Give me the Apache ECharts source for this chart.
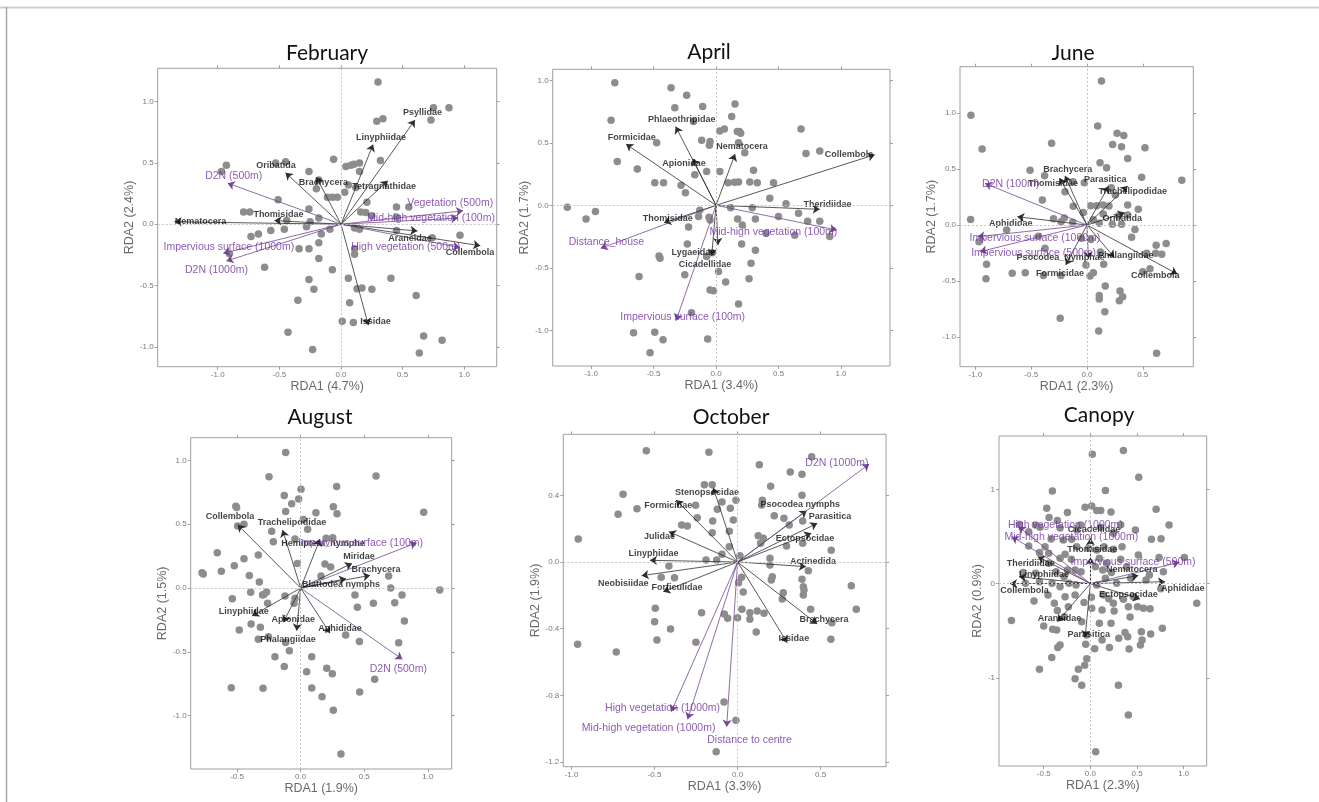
<!DOCTYPE html>
<html><head><meta charset="utf-8">
<script src="https://cdn.jsdelivr.net/npm/echarts@6/dist/echarts.min.js"></script>
<style>html,body{margin:0;padding:0;background:#fff}#c{width:1319px;height:802px}</style>
</head><body><div id="c"></div>
<script>
// ---------------- DATA ----------------
const panelTitles = ['February','April','June','August','October','Canopy'];
const xAxisNames = ['RDA1 (4.7%)','RDA1 (3.4%)','RDA1 (2.3%)','RDA1 (1.9%)','RDA1 (3.3%)','RDA1 (2.3%)'];
const yAxisNames = ['RDA2 (2.4%)','RDA2 (1.7%)','RDA2 (1.7%)','RDA2 (1.5%)','RDA2 (1.9%)','RDA2 (0.9%)'];

// axis extents [min,max]
const xRanges = [[-1.487,1.263],[-1.307,1.392],[-1.138,0.953],[-0.865,1.188],[-1.05,0.894],[-0.979,1.246]];
const yRanges = [[-1.161,1.271],[-1.285,1.088],[-1.265,1.414],[-1.418,1.178],[-1.228,0.766],[-1.933,1.565]];
// tick values
const xTicks = [[-1,-0.5,0,0.5,1],[-1,-0.5,0,0.5,1],[-1,-0.5,0,0.5],[-0.5,0,0.5,1],[-1,-0.5,0,0.5],[-0.5,0,0.5,1]];
const yTicks = [[-1,-0.5,0,0.5,1],[-1,-0.5,0,0.5,1],[-1,-0.5,0,0.5,1],[-1,-0.5,0,0.5,1],[-1.2,-0.8,-0.4,0,0.4],[-1,0,1]];
const yTickDecimals = [1,1,1,1,1,0];

// sites (grey points)
const febPoints = [[0.30,1.16],[0.75,0.95],[0.876,0.95],[0.73,0.85],[0.29,0.84],[0.34,0.86],[-0.06,0.53],[-0.53,0.50],[-0.45,0.51],[-0.97,0.43],[-0.93,0.48],[0.04,0.47],[0.08,0.48],[0.105,0.49],[0.15,0.50],[-0.26,0.43],[0.32,0.52],[0.15,0.43],[-0.18,0.36],[-0.2,0.29],[0.06,0.32],[0.12,0.30],[0.03,0.26],[-0.11,0.22],[-0.07,0.22],[-0.03,0.22],[-0.51,0.20],[0.21,0.18],[0.45,0.14],[0.55,0.14],[0.16,0.10],[0.20,0.095],[0.25,0.07],[-0.79,0.10],[-0.74,0.10],[-0.26,0.125],[-0.18,0.05],[-0.44,0.03],[-0.25,0.02],[-0.28,-0.02],[-0.57,-0.05],[-0.46,-0.04],[-0.67,-0.08],[-0.73,-0.10],[-0.16,-0.08],[-0.09,-0.04],[0.11,-0.03],[0.15,-0.04],[0.45,-0.05],[0.74,-0.11],[0.965,-0.09],[-0.18,-0.15],[-0.34,-0.20],[-0.26,-0.20],[0.11,-0.20],[0.11,-0.245],[-0.905,-0.24],[-0.18,-0.28],[-0.62,-0.35],[-0.07,-0.37],[-0.26,-0.45],[0.06,-0.44],[0.405,-0.44],[-0.22,-0.53],[0.13,-0.525],[0.17,-0.52],[0.25,-0.53],[0.61,-0.58],[-0.35,-0.62],[0.07,-0.64],[0.01,-0.79],[0.10,-0.80],[-0.43,-0.88],[0.67,-0.91],[0.82,-0.945],[-0.23,-1.02],[0.635,-1.05],[0.45,0.06]];
const aprPoints = [[-0.81,0.98],[-0.36,0.94],[-0.235,0.88],[-0.84,0.68],[-0.33,0.78],[-0.107,0.79],[0.152,0.81],[0.125,0.71],[-0.18,0.67],[0.03,0.595],[0.067,0.61],[0.187,0.59],[0.197,0.576],[0.17,0.59],[0.68,0.61],[-0.475,0.50],[-0.115,0.52],[-0.048,0.51],[-0.053,0.48],[0.18,0.50],[0.23,0.42],[0.72,0.415],[0.83,0.435],[-0.79,0.35],[-0.63,0.29],[0.03,0.27],[-0.075,0.27],[-0.17,0.245],[0.30,0.28],[-0.49,0.18],[-0.42,0.18],[-0.28,0.16],[-0.245,0.10],[0.096,0.18],[0.147,0.184],[0.18,0.187],[0.27,0.187],[0.33,0.18],[0.46,0.18],[0.43,0.056],[0.56,0.013],[-1.19,-0.016],[-0.965,-0.05],[-1.04,-0.11],[-0.13,-0.04],[-0.14,-0.09],[-0.056,-0.096],[-0.048,-0.117],[0.117,-0.02],[0.29,-0.02],[0.173,-0.11],[0.315,-0.11],[0.21,-0.157],[0.66,-0.064],[0.733,-0.128],[0.83,-0.128],[0.50,-0.09],[-0.22,-0.173],[0.63,-0.24],[0.91,-0.25],[0.40,-0.224],[-0.23,-0.31],[0.205,-0.31],[0.315,-0.36],[-0.456,-0.405],[-0.448,-0.424],[-0.075,-0.41],[-0.03,-0.38],[0.28,-0.464],[-0.616,-0.57],[-0.25,-0.555],[0.02,-0.53],[0.264,-0.587],[0.077,-0.613],[-0.048,-0.677],[-0.02,-0.683],[0.18,-0.79],[-0.197,-0.86],[-0.66,-1.02],[-0.49,-1.016],[-0.424,-1.075],[-0.067,-1.07],[-0.528,-1.18]];
const junPoints = [[0.13,1.286],[-1.04,0.98],[-0.94,0.68],[0.096,0.884],[0.27,0.82],[0.33,0.80],[0.23,0.72],[0.31,0.70],[0.52,0.69],[0.365,0.595],[-0.317,0.73],[0.117,0.556],[0.176,0.512],[-0.51,0.49],[-0.38,0.44],[-0.125,0.387],[-0.024,0.378],[0.49,0.426],[0.85,0.40],[0.218,0.333],[0.254,0.268],[-0.197,0.298],[-0.40,0.223],[-0.123,0.167],[-0.033,0.113],[0.033,0.173],[0.087,0.173],[0.146,0.179],[0.197,0.17],[0.365,0.179],[0.46,0.14],[0.365,0.089],[0.284,0.083],[0.146,0.098],[0.057,0.048],[0.11,0.015],[0.227,0.006],[0.31,0.006],[-1.043,0.05],[-0.30,0.057],[-0.203,0.063],[-0.233,0.03],[-0.128,0.024],[-0.72,-0.045],[0.43,-0.04],[0.40,-0.11],[-0.968,-0.149],[-0.436,-0.10],[-0.376,-0.208],[-0.048,-0.119],[0.036,-0.128],[0.12,-0.24],[0.15,-0.35],[-0.009,-0.357],[0.057,-0.426],[0.027,-0.455],[-0.90,-0.35],[-0.905,-0.48],[-0.67,-0.43],[-0.553,-0.426],[-0.39,-0.45],[-0.233,-0.45],[0.164,-0.545],[0.11,-0.63],[0.11,-0.66],[0.296,-0.59],[0.32,-0.64],[0.29,-0.675],[0.62,-0.18],[0.71,-0.164],[0.67,-0.26],[0.615,-0.253],[0.535,-0.253],[0.565,-0.39],[0.5,-0.417],[0.16,-0.774],[-0.24,-0.833],[0.105,-0.946],[0.624,-1.146]];
const augPoints = [[-0.118,1.063],[0.593,0.877],[-0.249,0.872],[0.283,0.796],[0.003,0.775],[-0.129,0.726],[-0.016,0.697],[-0.071,0.661],[-0.51,0.64],[-0.504,0.632],[-0.118,0.60],[0.12,0.59],[0.257,0.637],[0.286,0.582],[0.968,0.593],[0.021,0.538],[0.055,0.46],[-0.496,0.486],[-0.446,0.499],[-0.228,0.444],[-0.215,0.363],[-0.045,0.384],[0.252,0.394],[0.20,0.39],[-0.656,0.277],[-0.624,0.131],[-0.776,0.12],[-0.766,0.11],[-0.522,0.175],[-0.446,0.23],[-0.333,0.258],[-0.404,0.099],[-0.325,0.047],[-0.026,0.193],[0.191,0.188],[0.236,0.164],[0.692,0.094],[0.708,0],[-0.538,-0.084],[-0.393,-0.034],[-0.268,-0.031],[-0.289,-0.05],[-0.3,-0.055],[-0.26,-0.12],[-0.123,-0.063],[-0.045,-0.081],[-0.052,-0.12],[0.16,0.094],[0.427,-0.055],[0.446,-0.151],[0.572,-0.12],[0.74,-0.115],[0.797,-0.055],[0.816,-0.258],[-0.483,-0.329],[-0.39,-0.282],[-0.317,-0.308],[-0.333,-0.402],[-0.254,-0.381],[-0.118,-0.426],[-0.089,-0.491],[0.354,-0.368],[0.462,-0.418],[0.771,-0.428],[-0.202,-0.538],[-0.129,-0.614],[0.047,-0.655],[0.087,-0.538],[0.205,-0.629],[0.249,-0.671],[0.582,-0.715],[-0.546,-0.781],[-0.296,-0.786],[0.087,-0.783],[0.168,-0.851],[0.464,-0.815],[0.257,-0.958],[0.317,-1.3],[1.094,-0.016]];
const octPoints = [[-0.55,0.668],[-0.173,0.658],[0.446,0.632],[0.131,0.584],[0.317,0.54],[0.388,0.526],[-0.2,0.464],[-0.153,0.464],[0.199,0.454],[-0.69,0.406],[-0.01,0.37],[-0.094,0.36],[0.149,0.37],[0.145,0.342],[0.388,0.40],[-0.253,0.34],[-0.606,0.32],[-0.122,0.316],[-0.044,0.322],[-0.72,0.286],[0.221,0.278],[0.279,0.262],[-0.243,0.266],[-0.026,0.252],[-0.15,0.246],[-0.337,0.222],[-0.303,0.216],[0.311,0.222],[0.392,0.246],[-0.153,0.176],[-0.05,0.184],[0.124,0.158],[0.155,0.142],[0.139,0.112],[0.295,0.096],[0.392,0.112],[0.564,0.07],[-0.96,0.138],[-0.05,0.092],[-0.094,0.046],[0.014,0.038],[-0.19,0.012],[-0.126,0.012],[0.195,0.022],[0.195,-0.018],[-0.414,-0.024],[-0.46,-0.092],[-0.38,-0.094],[0.024,-0.092],[0.006,-0.124],[0.209,-0.088],[0.203,-0.108],[0.388,-0.104],[0.396,-0.148],[0.4,-0.168],[0.396,-0.198],[0.426,-0.052],[0.034,-0.18],[0.275,-0.184],[0.269,-0.222],[0.685,-0.142],[0.715,-0.284],[-0.496,-0.278],[-0.5,-0.358],[-0.486,-0.468],[-0.404,-0.402],[-0.217,-0.304],[-0.08,-0.312],[-0.06,-0.338],[0,-0.334],[0.026,-0.284],[0.074,-0.304],[0.074,-0.344],[0.118,-0.294],[0.159,-0.308],[0.112,-0.42],[-0.251,-0.482],[0.44,-0.284],[0.568,-0.364],[0.562,-0.464],[-0.964,-0.494],[-0.731,-0.54],[-0.082,-0.84],[-0.01,-0.95],[-0.129,-1.138]];
const canPoints = [[0.354,1.41],[0.021,1.371],[0.518,1.127],[-0.407,0.982],[0.161,0.986],[-0.468,0.799],[-0.246,0.753],[-0.057,0.809],[0.014,0.823],[0.068,0.774],[0.111,0.774],[0.221,0.76],[0.704,0.788],[0.843,0.622],[-0.443,0.70],[-0.354,0.668],[-0.589,0.622],[-0.761,0.629],[-0.661,0.551],[-0.539,0.597],[-0.104,0.622],[-0.325,0.59],[-0.146,0.569],[0.111,0.597],[0.325,0.625],[0.482,0.569],[0.246,0.534],[0.757,0.477],[0.654,0.47],[-0.661,0.399],[-0.421,0.473],[-0.289,0.463],[-0.486,0.392],[-0.2,0.47],[-0.546,0.329],[-0.446,0.322],[-0.271,0.311],[-0.325,0.269],[-0.204,0.258],[-0.146,0.392],[-0.021,0.375],[0.068,0.357],[0.146,0.392],[0.246,0.364],[0.339,0.392],[0.096,0.269],[0.175,0.216],[0.325,0.258],[0.514,0.304],[0.736,0.276],[1.007,0.276],[-0.721,0.117],[-0.586,0.11],[-0.446,0.216],[-0.368,0.127],[-0.246,0.145],[-0.164,0.145],[-0.282,0.074],[-0.1,0.127],[0.054,0.18],[0.132,0.145],[0.225,0.117],[0.389,0.18],[0.632,0.092],[0.782,0.127],[-0.696,0.004],[-0.546,0.021],[-0.411,0.004],[-0.325,-0.032],[-0.229,0.004],[-0.154,-0.014],[0.068,-0.014],[0.161,0.057],[0.282,0.004],[0.432,0.057],[0.596,0.039],[0.754,-0.053],[-0.604,-0.184],[-0.454,-0.12],[-0.271,-0.138],[-0.164,-0.12],[-0.386,-0.208],[-0.236,-0.244],[-0.068,-0.201],[0.011,-0.145],[0.139,-0.12],[0.196,-0.159],[0.246,-0.208],[0.354,-0.166],[0.461,-0.138],[0.407,-0.244],[0.504,-0.244],[0.568,-0.261],[0.639,-0.265],[1.139,-0.208],[-0.354,-0.286],[-0.279,-0.35],[0.014,-0.261],[0.125,-0.279],[0.254,-0.29],[0.425,-0.353],[-0.846,-0.392],[-0.5,-0.449],[-0.404,-0.484],[-0.093,-0.403],[0.096,-0.42],[0.221,-0.42],[0.371,-0.519],[0.546,-0.509],[0.646,-0.534],[0.771,-0.473],[-0.361,-0.491],[-0.039,-0.544],[0.125,-0.597],[0.204,-0.678],[0.304,-0.58],[0.4,-0.562],[0.554,-0.597],[0.536,-0.65],[0.414,-0.693],[0.046,-0.689],[-0.05,-0.643],[-0.325,-0.65],[-0.35,-0.678],[-0.414,-0.784],[-0.039,-0.795],[-0.061,-0.866],[-0.129,-0.908],[-0.546,-0.908],[-0.164,-1.007],[-0.093,-1.078],[0.3,-1.078],[0.407,-1.392],[0.057,-1.781]];

// species vectors: [name, tipX, tipY, labelX, labelY]
const febSpecies = [['Psyllidae',0.60,0.85,0.662,0.91],['Linyphiidae',0.26,0.65,0.324,0.71],['Oribatida',-0.45,0.42,-0.527,0.48],['Brachycera',-0.20,0.385,-0.143,0.34],['Tetragnathidae',0.38,0.355,0.35,0.31],['Thomisidae',-0.54,0.03,-0.508,0.08],['Nematocera',-1.35,0.02,-1.14,0.02],['Araneidae',0.62,-0.055,0.56,-0.115],['Collembola',1.13,-0.175,1.046,-0.23],['Issidae',0.222,-0.823,0.28,-0.796]];
const aprSpecies = [['Phlaeothripidae',-0.323,0.63,-0.275,0.69],['Formicidae',-0.72,0.49,-0.675,0.544],['Nematocera',0.152,0.41,0.208,0.467],['Apionidae',-0.187,0.373,-0.256,0.333],['Collembola',1.27,0.405,1.064,0.403],['Theridiidae',0.83,-0.032,0.891,0.008],['Thomisidae',-0.416,-0.139,-0.387,-0.104],['Lygaeidae',-0.035,-0.405,-0.181,-0.376],['Cicadellidae',0.016,-0.317,-0.088,-0.472]];
const junSpecies = [['Brachycera',-0.197,0.44,-0.173,0.50],['Thomisidae',-0.248,0.42,-0.305,0.375],['Parasitica',0.194,0.348,0.164,0.408],['Trachelipodidae',0.365,0.348,0.41,0.298],['Oribatida',0.34,0.11,0.317,0.057],['Aphididae',-0.624,0.074,-0.684,0.015],['Psocodea_Nymphae',0.012,-0.30,-0.236,-0.289],['Formicidae',-0.19,-0.357,-0.242,-0.435],['Phalangiidae',0.245,-0.289,0.347,-0.271],['Collembola',0.81,-0.438,0.613,-0.449]];
const augSpecies = [['Collembola',-0.496,0.496,-0.556,0.559],['Trachelipodidae',-0.142,0.454,-0.068,0.512],['Hemiptera_nymphe',0.152,0.384,0.176,0.345],['Miridae',0.404,0.193,0.459,0.245],['Brachycera',0.546,0.099,0.593,0.146],['Blattodea nymphs',0.357,0.073,0.317,0.029],['Linyphiidae',-0.383,-0.219,-0.448,-0.183],['Apionidae',-0.136,-0.269,-0.058,-0.245],['Phalangiidae',-0.031,-0.334,-0.1,-0.407],['Aphididae',0.231,-0.355,0.31,-0.321]];
const octSpecies = [['Stenopsocidae',-0.147,0.446,-0.185,0.416],['Formicidae',-0.371,0.372,-0.418,0.34],['Julidae',-0.414,0.182,-0.47,0.15],['Linyphiidae',-0.528,0.01,-0.506,0.048],['Neobisiidae',-0.578,-0.082,-0.689,-0.13],['Forficulidae',-0.448,-0.178,-0.365,-0.152],['Psocodea nymphs',0.416,0.308,0.378,0.346],['Parasitica',0.48,0.232,0.556,0.272],['Ectopsocidae',0.444,0.172,0.406,0.138],['Actinedida',0.412,-0.028,0.454,0.002],['Brachycera',0.48,-0.372,0.52,-0.344],['Issidae',0.299,-0.484,0.339,-0.46]];
const canSpecies = [['Cicadellidae',0,0.481,0.039,0.569],['Thomisidae',0,0.276,0.021,0.364],['Theridiidae',-0.564,0.286,-0.639,0.216],['Linyphiidae',-0.764,0.074,-0.496,0.099],['Collembola',-0.861,0,-0.707,-0.074],['Nematocera',0.514,0.085,0.443,0.145],['Aphididae',0.8,0.021,0.989,-0.053],['Ectopsocidae',0.532,-0.163,0.407,-0.117],['Araneidae',-0.354,-0.403,-0.332,-0.371],['Parasitica',-0.057,-0.569,-0.018,-0.541]];

// environmental vectors: [name, tipX, tipY, labelX, labelY]
const febEnv = [['D2N (500m)',-0.92,0.335,-0.87,0.39],['Vegetation (500m)',0.99,0.11,0.886,0.17],['Mid-high vegetation (100m)',0.95,0.05,0.73,0.046],['High vegetation (500m)',0.965,-0.19,0.525,-0.19],['Impervious surface (1000m)',-0.955,-0.237,-0.91,-0.19],['D2N (1000m)',-0.93,-0.30,-1.01,-0.37]];
const aprEnv = [['Mid-high vegetation (100m)',0.965,-0.197,0.459,-0.211],['Distance_house',-0.923,-0.344,-0.877,-0.296],['Impervious surface (100m)',-0.32,-0.923,-0.267,-0.893]];
const junEnv = [['D2N (100m)',-0.914,0.372,-0.684,0.369],['Impervious surface (1000m)',-0.98,-0.104,-0.466,-0.113],['Impervious surface (500m)',-0.96,-0.238,-0.478,-0.247]];
const augEnv = [['Impervious surface (100m)',0.913,0.355,0.472,0.355],['D2N (500m)',0.80,-0.559,0.768,-0.637]];
const octEnv = [['D2N (1000m)',0.793,0.588,0.598,0.592],['High vegetation (1000m)',-0.4,-0.898,-0.452,-0.874],['Mid-high vegetation (1000m)',-0.301,-0.944,-0.536,-0.998],['Distance to centre',-0.066,-0.988,0.072,-1.068]];
const canEnv = [['High vegetation (1000m)',-0.771,0.604,-0.268,0.625],['Mid-high vegetation (1000m)',-0.843,0.498,-0.204,0.495],['Impervious surface (500m)',0.954,0.226,0.457,0.223]];

const allPoints = [febPoints,aprPoints,junPoints,augPoints,octPoints,canPoints];
const allSpecies = [febSpecies,aprSpecies,junSpecies,augSpecies,octSpecies,canSpecies];
const allEnv = [febEnv,aprEnv,junEnv,augEnv,octEnv,canEnv];

// ---------------- LAYOUT (pixels) ----------------
const LAYOUT = [
  {l:157.7,t:68.3,r:496.7,b:366.7,tx:327,ty:53,yGap:16},
  {l:552.7,t:69.3,r:890,b:366,tx:709,ty:52,yGap:16},
  {l:960,t:66.7,r:1193.3,b:366.7,tx:1073,ty:53,yGap:16},
  {l:190.7,t:437.7,r:451.7,b:769,tx:320,ty:417,yGap:16},
  {l:563.3,t:434.3,r:886,b:766.7,tx:731,ty:417,yGap:16},
  {l:999,t:436,r:1206.7,b:766,tx:1099,ty:415,yGap:10}
];

const FONT = '"Liberation Sans", Arial, sans-serif';
const PURPLE = '#7030a0';
const grids=[], xAxes=[], yAxes=[], series=[], graphics=[];

function fmt(v,d){ return Number(v).toFixed(d); }

for (let i=0;i<6;i++){
  const L = LAYOUT[i];
  grids.push({left:L.l, top:L.t, width:L.r-L.l, height:L.b-L.t, show:true, borderColor:'#9e9e9e', borderWidth:1, backgroundColor:'transparent'});
  const tick = {show:true, length:3, lineStyle:{color:'#a0a0a0', width:1}};
  const noLine = {show:false, onZero:false};
  const xr = xRanges[i], yr = yRanges[i];
  xAxes.push({gridIndex:i, type:'value', min:xr[0], max:xr[1], position:'bottom',
    axisLine:noLine, splitLine:{show:false},
    axisTick:Object.assign({customValues:xTicks[i]}, tick),
    axisLabel:{customValues:xTicks[i], formatter:v=>fmt(v,1), fontSize:8, color:'#7a7a7a', margin:4, fontFamily:FONT},
    name:xAxisNames[i], nameLocation:'middle', nameGap:12,
    nameTextStyle:{fontSize:12.5, color:'#6a6a6a', fontFamily:FONT}});
  xAxes.push({gridIndex:i, type:'value', min:xr[0], max:xr[1], position:'top',
    axisLine:noLine, splitLine:{show:false},
    axisTick:Object.assign({customValues:xTicks[i]}, tick), axisLabel:{show:false}});
  yAxes.push({gridIndex:i, type:'value', min:yr[0], max:yr[1], position:'left',
    axisLine:noLine, splitLine:{show:false},
    axisTick:Object.assign({customValues:yTicks[i]}, tick),
    axisLabel:{customValues:yTicks[i], formatter:v=>fmt(v,yTickDecimals[i]), fontSize:8, color:'#7a7a7a', margin:4, fontFamily:FONT},
    name:yAxisNames[i], nameLocation:'middle', nameGap:L.yGap,
    nameTextStyle:{fontSize:12.5, color:'#6a6a6a', fontFamily:FONT}});
  yAxes.push({gridIndex:i, type:'value', min:yr[0], max:yr[1], position:'right',
    axisLine:noLine, splitLine:{show:false},
    axisTick:Object.assign({customValues:yTicks[i]}, tick), axisLabel:{show:false}});
  const xi = i*2, yi = i*2;

  // zero reference lines
  series.push({type:'scatter', xAxisIndex:xi, yAxisIndex:yi, data:[], z:1, silent:true,
    markLine:{silent:true, symbol:'none', animation:false, label:{show:false},
      lineStyle:{type:[2,2], color:'#c4c4c4', width:1},
      data:[{xAxis:0},{yAxis:0}]}});
  // site points
  series.push({type:'scatter', xAxisIndex:xi, yAxisIndex:yi, data:allPoints[i], z:2,
    symbol:'circle', symbolSize:7.5, itemStyle:{color:'#8d8d8d', opacity:1}});
  // species arrows
  series.push({type:'lines', coordinateSystem:'cartesian2d', xAxisIndex:xi, yAxisIndex:yi, z:3,
    symbol:['none','arrow'], symbolSize:7,
    lineStyle:{color:'#2e2e2e', width:0.8, opacity:1},
    data:allSpecies[i].map(s=>({coords:[[0,0],[s[1],s[2]]]}))});
  // env arrows
  series.push({type:'lines', coordinateSystem:'cartesian2d', xAxisIndex:xi, yAxisIndex:yi, z:3,
    symbol:['none','arrow'], symbolSize:7,
    lineStyle:{color:'#74488f', width:0.8, opacity:1},
    data:allEnv[i].map(s=>({coords:[[0,0],[s[1],s[2]]]}))});
  // species labels
  series.push({type:'scatter', xAxisIndex:xi, yAxisIndex:yi, z:4, symbolSize:1,
    itemStyle:{color:'rgba(0,0,0,0)'},
    label:{show:true, position:'inside', formatter:'{b}', fontSize:9, fontWeight:'bold', color:'#111', fontFamily:FONT},
    data:allSpecies[i].map(s=>({name:s[0], value:[s[3],s[4]]}))});
  // env labels
  series.push({type:'scatter', xAxisIndex:xi, yAxisIndex:yi, z:4, symbolSize:1,
    itemStyle:{color:'rgba(0,0,0,0)'},
    label:{show:true, position:'inside', formatter:'{b}', fontSize:10.5, color:PURPLE, fontFamily:FONT},
    data:allEnv[i].map(s=>({name:s[0], value:[s[3],s[4]]}))});

  graphics.push({type:'text', x:L.tx, y:L.ty, style:{text:panelTitles[i], font:'21px Lato, "Open Sans", sans-serif', fill:'#111', textAlign:'center', textVerticalAlign:'middle'}});
}

// figure frame lines (top and left)
graphics.push({type:'line', shape:{x1:0,y1:7.5,x2:1319,y2:7.5}, style:{stroke:'#cfcfcf', lineWidth:2}});
graphics.push({type:'line', shape:{x1:6.5,y1:7,x2:6.5,y2:802}, style:{stroke:'#a8a8a8', lineWidth:1.5}});

const chart = echarts.init(document.getElementById('c'), null, {renderer:'canvas'});
chart.setOption({
  animation:false, backgroundColor:'#fff',
  grid:grids, xAxis:xAxes, yAxis:yAxes, series:series, graphic:graphics
});
</script></body></html>
